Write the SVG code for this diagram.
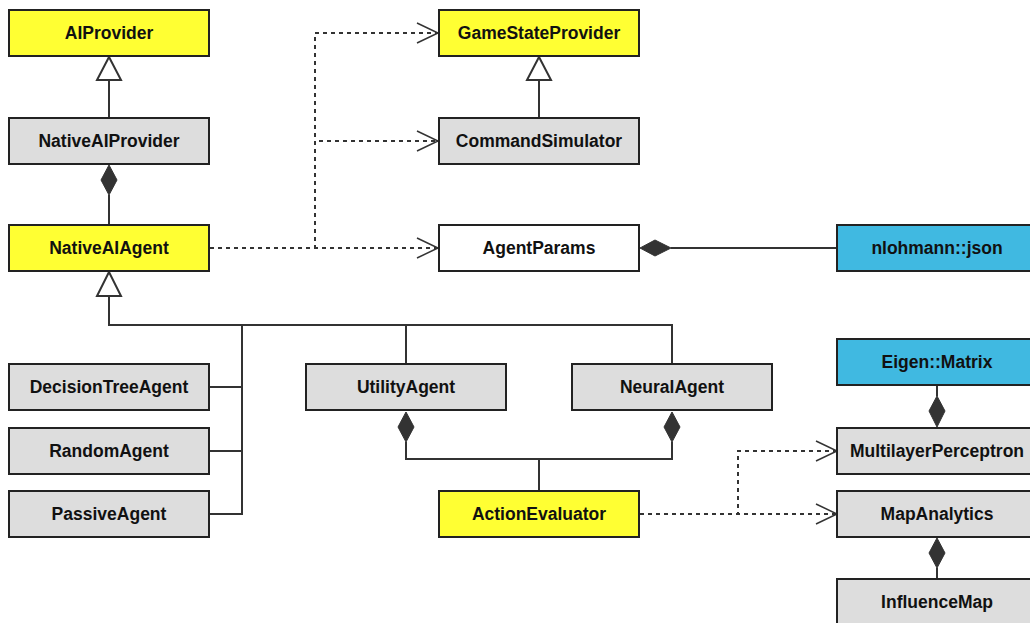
<svg xmlns="http://www.w3.org/2000/svg" width="1030" height="623" viewBox="0 0 1030 623">
<style>
.box{stroke:#222;stroke-width:2}
.y{fill:#FFFF33}.g{fill:#DDDDDD}.w{fill:#FFFFFF}.b{fill:#40B9E1}
.t{font-family:"Liberation Sans",Arial,sans-serif;font-weight:bold;font-size:17.5px;fill:#111;text-anchor:middle;dominant-baseline:central}
.ln{fill:none;stroke:#333;stroke-width:2}
.dl{fill:none;stroke:#333;stroke-width:2;stroke-dasharray:4 4}
.tri{fill:#fff;stroke:#333;stroke-width:2}
.dia{fill:#333;stroke:#333;stroke-width:1}
.arr{fill:none;stroke:#333;stroke-width:1.5}
</style>
<rect width="1030" height="623" fill="#fff"/>
<g id="connectors">
  <!-- inheritance NativeAIProvider -> AIProvider -->
  <path class="ln" d="M109 80V118"/>
  <polygon class="tri" points="109,57 97,80 121,80"/>
  <!-- composition NativeAIProvider <>- NativeAIAgent -->
  <path class="ln" d="M109 195V225"/>
  <polygon class="dia" points="109,165 117,180 109,195 101,180"/>
  <!-- inheritance tree to NativeAIAgent -->
  <path class="ln" d="M109 296V325H672V364M406 325V364M242 325V514H209M242 387H209M242 451H209"/>
  <polygon class="tri" points="109,272 97,296 121,296"/>
  <!-- CommandSimulator -> GameStateProvider -->
  <path class="ln" d="M539 80V118"/>
  <polygon class="tri" points="539,57 527,80 551,80"/>
  <!-- dependencies from NativeAIAgent -->
  <path class="dl" d="M210 248H437"/>
  <path class="dl" d="M210 248H315V33H437"/>
  <path class="dl" d="M210 248H315V141H437"/>
  <path class="arr" d="M417 23L438 33L417 43M417 131L438 141L417 151M417 238L438 248L417 258"/>
  <!-- AgentParams <>- nlohmann::json -->
  <path class="ln" d="M671 248H837"/>
  <polygon class="dia" points="640,248 655,240 671,248 655,256"/>
  <!-- Utility/Neural <>- ActionEvaluator -->
  <path class="ln" d="M406 442V459H672V442M539 459V491"/>
  <polygon class="dia" points="406,412 414,427 406,442 398,427"/>
  <polygon class="dia" points="672,412 680,427 672,442 664,427"/>
  <!-- ActionEvaluator dependencies -->
  <path class="dl" d="M640 514H836"/>
  <path class="dl" d="M640 514H738V451H836"/>
  <path class="arr" d="M816 441L837 451L816 461M816 504L837 514L816 524"/>
  <!-- Eigen::Matrix composition -->
  <path class="ln" d="M937 386V396"/>
  <polygon class="dia" points="937,396 945,411 937,427 929,411"/>
  <!-- MapAnalytics <>- InfluenceMap -->
  <path class="ln" d="M937 568V579"/>
  <polygon class="dia" points="937,538 945,553 937,568 929,553"/>
</g>
<g id="AIProvider"><rect class="box y" x="9" y="10" width="200" height="46"/><text class="t" x="109" y="33">AIProvider</text></g>
<g id="NativeAIProvider"><rect class="box g" x="9" y="118" width="200" height="46"/><text class="t" x="109" y="141">NativeAIProvider</text></g>
<g id="NativeAIAgent"><rect class="box y" x="9" y="225" width="200" height="46"/><text class="t" x="109" y="248">NativeAIAgent</text></g>
<g id="GameStateProvider"><rect class="box y" x="439" y="10" width="200" height="46"/><text class="t" x="539" y="33">GameStateProvider</text></g>
<g id="CommandSimulator"><rect class="box g" x="439" y="118" width="200" height="46"/><text class="t" x="539" y="141">CommandSimulator</text></g>
<g id="AgentParams"><rect class="box w" x="439" y="225" width="200" height="46"/><text class="t" x="539" y="248">AgentParams</text></g>
<g id="nlohmann_json"><rect class="box b" x="837" y="225" width="200" height="46"/><text class="t" x="937" y="248">nlohmann::json</text></g>
<g id="DecisionTreeAgent"><rect class="box g" x="9" y="364" width="200" height="46"/><text class="t" x="109" y="387">DecisionTreeAgent</text></g>
<g id="RandomAgent"><rect class="box g" x="9" y="428" width="200" height="46"/><text class="t" x="109" y="451">RandomAgent</text></g>
<g id="PassiveAgent"><rect class="box g" x="9" y="491" width="200" height="46"/><text class="t" x="109" y="514">PassiveAgent</text></g>
<g id="UtilityAgent"><rect class="box g" x="306" y="364" width="200" height="46"/><text class="t" x="406" y="387">UtilityAgent</text></g>
<g id="NeuralAgent"><rect class="box g" x="572" y="364" width="200" height="46"/><text class="t" x="672" y="387">NeuralAgent</text></g>
<g id="ActionEvaluator"><rect class="box y" x="439" y="491" width="200" height="46"/><text class="t" x="539" y="514">ActionEvaluator</text></g>
<g id="Eigen_Matrix"><rect class="box b" x="837" y="339" width="200" height="46"/><text class="t" x="937" y="362">Eigen::Matrix</text></g>
<g id="MultilayerPerceptron"><rect class="box g" x="837" y="428" width="200" height="46"/><text class="t" x="937" y="451">MultilayerPerceptron</text></g>
<g id="MapAnalytics"><rect class="box g" x="837" y="491" width="200" height="46"/><text class="t" x="937" y="514">MapAnalytics</text></g>
<g id="InfluenceMap"><rect class="box g" x="837" y="579" width="200" height="46"/><text class="t" x="937" y="602">InfluenceMap</text></g>
</svg>
